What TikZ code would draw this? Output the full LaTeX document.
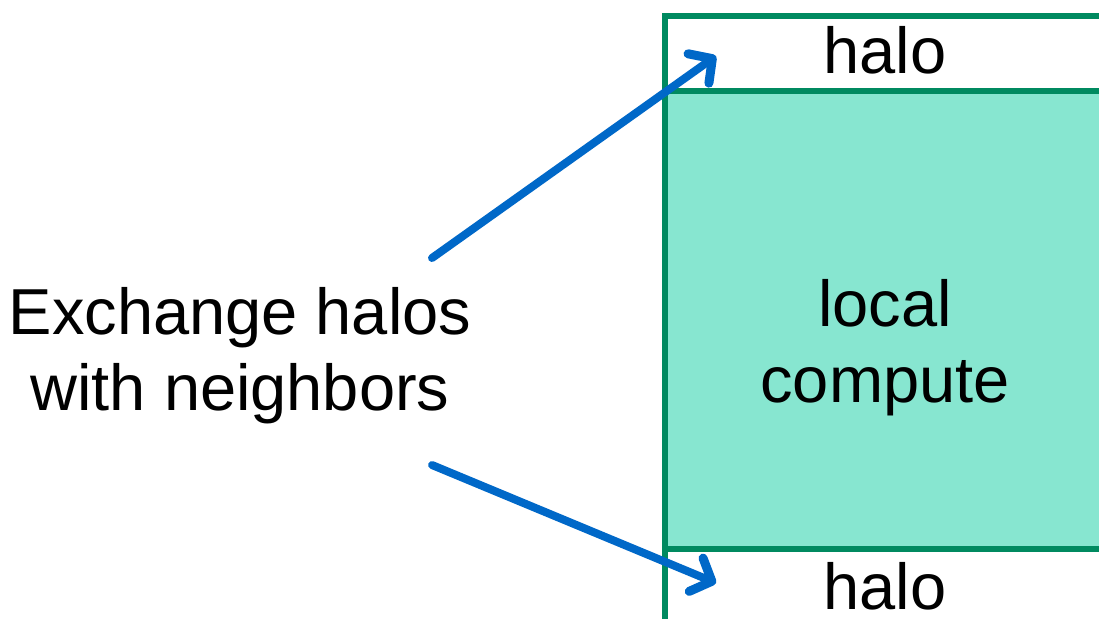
\documentclass[tikz,border=0pt]{standalone}
\usepackage{fontspec}
\setmainfont{Liberation Sans}
\usetikzlibrary{arrows.meta}
\definecolor{gline}{RGB}{0,138,96}
\definecolor{gfill}{RGB}{135,230,208}
\definecolor{barrow}{RGB}{0,104,200}
\tikzset{
  lbl/.style={font=\fontsize{65}{76}\selectfont, align=center, inner sep=0pt},
  border/.style={draw=gline, line width=6pt},
  xarrow/.style={draw=barrow, line width=8pt, line cap=round, line join=round,
    -{Straight Barb[length=17pt,width=36pt,line width=9pt,round]}}
}
\begin{document}
\begin{tikzpicture}[x=1pt,y=-1pt]
\useasboundingbox (0,0) rectangle (1099,618);
\fill[white] (0,0) rectangle (1099,618);
% regions
\node[fill=gfill, inner sep=0pt, anchor=north west,
  minimum height=458pt, minimum width=440pt] (comp) at (665,91) {};
\node[lbl] (ctext) at (885,348) {local\\compute};
\node[lbl] (htop) at (885,50) {halo};
\node[lbl] (hbot) at (885,586) {halo};
\draw[border] (1110,16) -- (665,16) -- (665,630);
\draw[border] (665,91) -- (1110,91);
\draw[border] (665,549) -- (1110,549);
% label
\node[lbl] (ex) at (240,356) {Exchange halos\\with neighbors};
\coordinate (s1) at (432,258);
\coordinate (e1) at (716,56);
\coordinate (s2) at (432,465);
\coordinate (e2) at (716,583);
\draw[xarrow] (s1) -- (e1);
\draw[xarrow] (s2) -- (e2);
\end{tikzpicture}
\end{document}
